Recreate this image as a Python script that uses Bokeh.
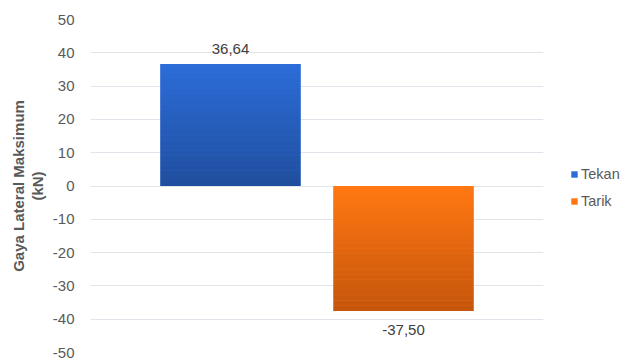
from bokeh.plotting import figure
from bokeh.models import FactorRange, Range1d, FixedTicker, Legend, LegendItem, ColumnDataSource, NumeralTickFormatter
from bokeh.core.properties import value
from bokeh.embed import file_html
from bokeh.resources import INLINE

series = ["Tekan", "Tarik"]
values = [36.64, -37.50]
y_ticks = [-50, -40, -30, -20, -10, 0, 10, 20, 30, 40, 50]
top_colors = [(44, 108, 216), (255, 119, 18)]
bottom_colors = [(32, 78, 158), (198, 86, 12)]

FONT = "Liberation Sans"
GREY = "#595959"

p = figure(frame_width=453, frame_height=333, output_backend="svg", toolbar_location=None,
           x_range=FactorRange(factors=series, range_padding=0.309),
           y_range=Range1d(-50, 50),
           min_border_left=90, min_border_right=82, min_border_top=19, min_border_bottom=9)
p.outline_line_color = None
p.background_fill_color = "white"
p.border_fill_color = "white"

# base bars (for legend)
renderers = []
for s, v, c in zip(series, values, top_colors):
    r = p.vbar(x=[s], top=[max(0, v)], bottom=[min(0, v)], width=0.81,
               fill_color="#%02x%02x%02x" % c, line_color=None)
    renderers.append(r)

# vertical gradient bands
N = 24
for s, v, ct, cb in zip(series, values, top_colors, bottom_colors):
    hi, lo = max(0, v), min(0, v)
    h = (hi - lo) / N
    src = dict(x=[], top=[], bottom=[], color=[])
    for i in range(N):
        t = i / (N - 1)
        col = tuple(int(round(ct[k] + (cb[k] - ct[k]) * t)) for k in range(3))
        src["x"].append(s)
        src["top"].append(hi - i * h)
        src["bottom"].append(max(lo, hi - (i + 1) * h - 0.02))
        src["color"].append("#%02x%02x%02x" % col)
    p.vbar(x="x", top="top", bottom="bottom", width=0.81, fill_color="color",
           line_color=None, source=ColumnDataSource(src))

# data labels
labels = [f"{v:.2f}".replace(".", ",") for v in values]
pos = ColumnDataSource(dict(x=[s for s, v in zip(series, values) if v >= 0],
                            y=[v for v in values if v >= 0],
                            t=[l for l, v in zip(labels, values) if v >= 0]))
neg = ColumnDataSource(dict(x=[s for s, v in zip(series, values) if v < 0],
                            y=[v for v in values if v < 0],
                            t=[l for l, v in zip(labels, values) if v < 0]))
p.text(x="x", y="y", text="t", source=pos, text_align="center", text_baseline="alphabetic",
       y_offset=-15, text_font=value(FONT), text_font_size="15px", text_color="#404040")
p.text(x="x", y="y", text="t", source=neg, text_align="center", text_baseline="alphabetic",
       y_offset=19, text_font=value(FONT), text_font_size="15px", text_color="#404040")

# axes
p.xaxis.visible = False
p.xgrid.grid_line_color = None
p.yaxis.ticker = FixedTicker(ticks=y_ticks)
p.yaxis.formatter = NumeralTickFormatter(format="0")
p.yaxis.axis_line_color = None
p.yaxis.major_tick_line_color = None
p.yaxis.minor_tick_line_color = None
p.yaxis.major_label_standoff = 10
p.yaxis.major_label_text_font = FONT
p.yaxis.major_label_text_font_size = "15px"
p.yaxis.major_label_text_color = GREY
p.yaxis.axis_label = "Gaya Lateral Maksimum\n(kN)"
p.yaxis.axis_label_text_font = FONT
p.yaxis.axis_label_text_font_size = "15px"
p.yaxis.axis_label_text_font_style = "bold"
p.yaxis.axis_label_text_color = GREY
p.yaxis.axis_label_standoff = 4
p.yaxis.axis_label_text_line_height = 1.1
p.ygrid.grid_line_color = "#e1e4ea"
p.ygrid.grid_line_width = 1

legend = Legend(items=[LegendItem(label=s, renderers=[r]) for s, r in zip(series, renderers)],
                location=(27, 143), margin=0, padding=0, spacing=11,
                glyph_width=8, glyph_height=8, label_standoff=3,
                label_text_font=FONT, label_text_font_size="14.5px", label_text_color=GREY,
                border_line_color=None, background_fill_alpha=0)
p.add_layout(legend, "right")

open("out.html", "w").write(file_html(p, INLINE))
